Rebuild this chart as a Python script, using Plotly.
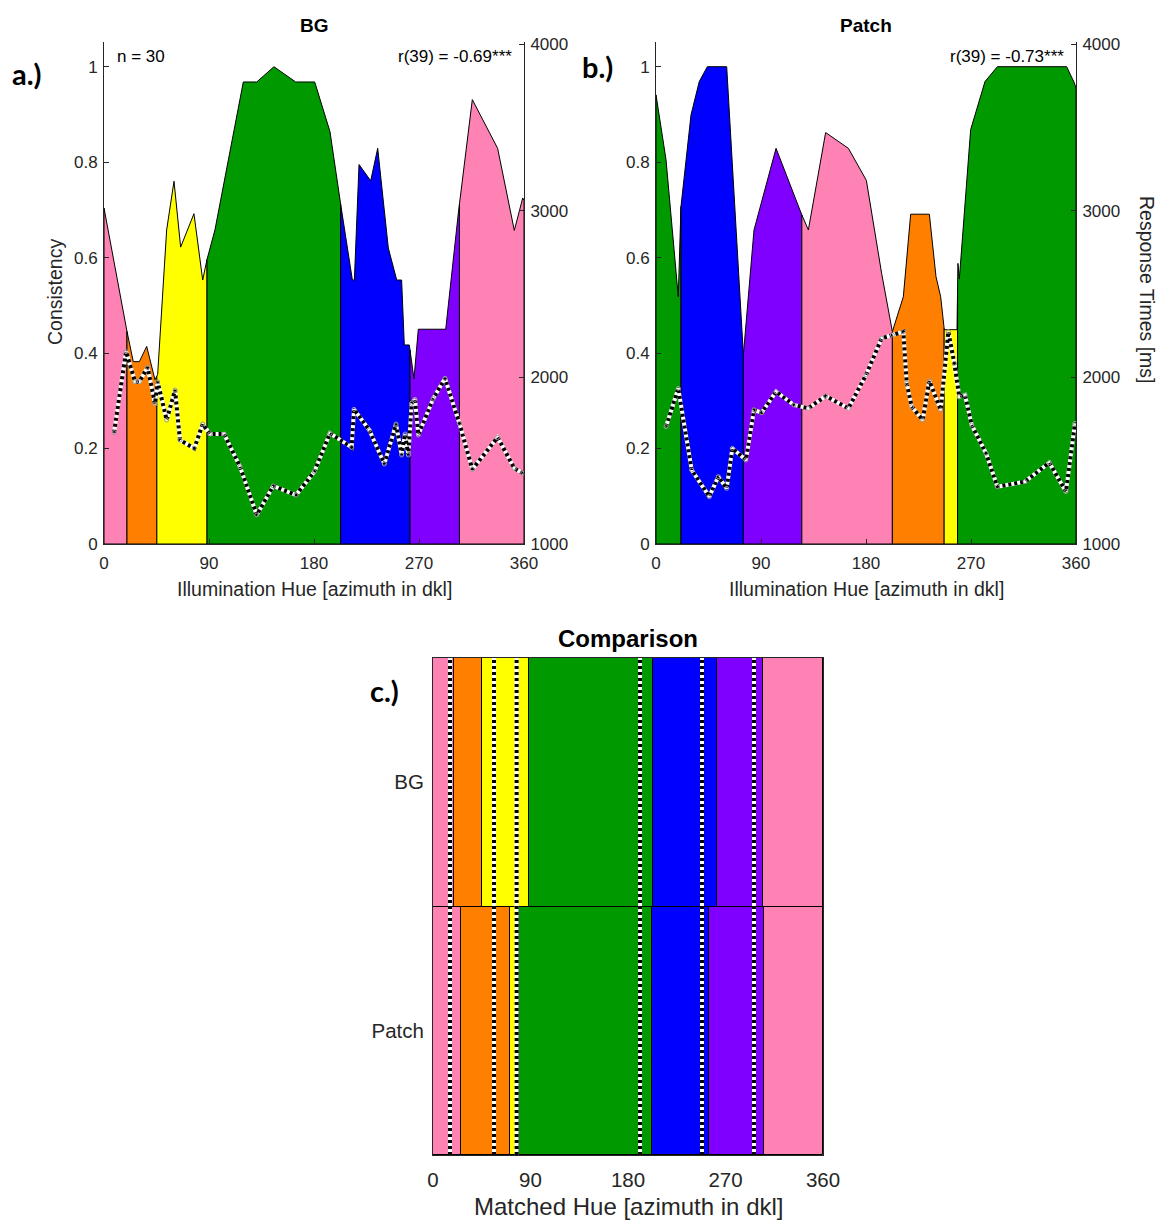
import numpy as np
import plotly.graph_objects as go

# ---------------------------------------------------------------------------
# Colour categories
# ---------------------------------------------------------------------------
CAT_COLORS = {
    "pink": "#FF82B4",
    "orange": "#FF8000",
    "yellow": "#FFFF00",
    "green": "#009900",
    "blue": "#0000FF",
    "purple": "#8000FF",
}

# ---------------------------------------------------------------------------
# BG condition: naming consistency and response times per illumination hue
# ---------------------------------------------------------------------------
bg_cons_hue = [0, 19.4, 25.1, 30.3, 36.6, 43.7, 46.0, 53.7, 60.0, 65.7, 77.1,
               84.6, 87.4, 95.1, 119.4, 130.9, 145.7, 164.3, 180.6, 193.7,
               202.9, 212.9, 214.6, 218.6, 228.6, 234.6, 243.7, 250.9, 255.1,
               257.4, 261.7, 265.7, 269.4, 292.9, 303.7, 315.7, 337.4, 351.7,
               358.9, 360]
bg_cons = [0.704, 0.449, 0.382, 0.382, 0.414, 0.344, 0.355, 0.658, 0.760,
           0.622, 0.692, 0.553, 0.588, 0.658, 0.968, 0.968, 1.000, 0.968,
           0.968, 0.864, 0.711, 0.553, 0.553, 0.795, 0.761, 0.829, 0.620,
           0.553, 0.553, 0.417, 0.417, 0.346, 0.450, 0.450, 0.693, 0.931,
           0.829, 0.657, 0.725, 0.720]

bg_rt_hue = [8.6, 18.9, 26.6, 30.3, 37.4, 43.7, 46.0, 53.7, 60.9, 65.1, 77.4,
             84.6, 90.9, 102.9, 116.6, 130.9, 145.1, 164.6, 180.3, 193.7,
             212.3, 214.3, 227.4, 240.3, 250.3, 255.1, 258.0, 260.9, 263.7,
             266.6, 269.4, 282.3, 292.3, 304.6, 315.7, 337.4, 351.7, 358.9]
bg_rt = [1668, 2154, 1974, 1974, 2060, 1840, 1974, 1744, 1924, 1624, 1574,
         1720, 1660, 1660, 1464, 1174, 1348, 1294, 1434, 1664, 1580, 1808,
         1684, 1480, 1720, 1534, 1660, 1534, 1844, 1868, 1654, 1874, 1994,
         1724, 1448, 1640, 1454, 1424]

bg_edges = [0, 19.7, 45.3, 88.3, 202.8, 262.3, 304.7, 360]
bg_cats = ["pink", "orange", "yellow", "green", "blue", "purple", "pink"]

# ---------------------------------------------------------------------------
# Patch condition
# ---------------------------------------------------------------------------
patch_cons_hue = [0, 8.6, 19.1, 21.4, 30.0, 37.1, 44.0, 60.6, 74.9, 84.0,
                  102.9, 124.9, 130.6, 145.4, 164.9, 180.3, 193.4, 202.6,
                  212.0, 218.3, 234.3, 240.0, 244.0, 247.1, 258.0, 258.8,
                  260.0, 269.7, 282.0, 292.6, 352.0, 358.6, 360]
patch_cons = [0.941, 0.805, 0.518, 0.707, 0.899, 0.969, 1.000, 1.000, 0.396,
              0.658, 0.829, 0.690, 0.658, 0.862, 0.829, 0.762, 0.567, 0.445,
              0.518, 0.691, 0.691, 0.560, 0.518, 0.449, 0.449, 0.588, 0.555,
              0.868, 0.969, 1.000, 1.000, 0.966, 0.955]

patch_rt_hue = [8.6, 19.1, 30.6, 45.7, 53.4, 60.6, 65.4, 77.1, 84.0, 90.6,
                102.9, 118.3, 130.6, 145.4, 164.9, 180.0, 193.4, 202.6, 212.0,
                214.9, 219.2, 228.6, 234.3, 244.0, 250.6, 255.7, 260.0, 264.9,
                270.6, 282.9, 292.6, 316.3, 337.1, 351.4, 359.1]
patch_rt = [1704, 1934, 1444, 1284, 1404, 1334, 1574, 1504, 1804, 1788, 1914,
            1834, 1814, 1888, 1814, 2014, 2234, 2254, 2274, 1964, 1824, 1744,
            1980, 1804, 2274, 2084, 1884, 1894, 1714, 1544, 1344, 1374, 1488,
            1314, 1724]

patch_edges = [0, 21.4, 74.9, 125.0, 202.6, 247.0, 258.5, 360]
patch_cats = ["green", "blue", "purple", "pink", "orange", "yellow", "green"]

# ---------------------------------------------------------------------------
# Comparison of category borders on matched hue
# ---------------------------------------------------------------------------
cmp_rows = ["BG", "Patch"]
cmp_edges = {
    "BG": [0, 19.7, 45.5, 88.3, 202.8, 262.4, 304.9, 360],
    "Patch": [0, 26.2, 70.8, 79.7, 202.5, 255.0, 305.8, 360],
}
cmp_cats = ["pink", "orange", "yellow", "green", "blue", "purple", "pink"]
cmp_markers = [15.7, 56.3, 77.2, 191.1, 248.3, 296.3]

stats_text = {"BG": "r(39) = -0.69***", "Patch": "r(39) = -0.73***"}
n_text = "n = 30"

# ---------------------------------------------------------------------------
# Layout geometry (pixels -> paper)
# ---------------------------------------------------------------------------
W, H = 1158, 1221


def fx(px):
    return px / W


def fy(py):
    return 1 - py / H


AX_COL = "#262626"
FONT = "Liberation Sans, Arial, sans-serif"
TOP, BOT = 42, 544
PANELS = {"a": (104, 524), "b": (656, 1076)}
C_L, C_R, C_T, C_B = 433, 823, 658, 1155


def segment(h, v, a, b):
    """Area under the consistency curve between hue a and hue b."""
    h = np.asarray(h, float)
    v = np.asarray(v, float)
    inner = (h > a) & (h < b)
    xs = [a] + list(h[inner]) + [b]
    ys = [float(np.interp(a, h, v))] + list(v[inner]) + [float(np.interp(b, h, v))]
    return xs + [b, a, a], ys + [0, 0, ys[0]]


fig = go.Figure()


def add_panel(cons_h, cons_v, rt_h, rt_v, edges, cats, xa, ya, ya_rt):
    for a, b, c in zip(edges[:-1], edges[1:], cats):
        xs, ys = segment(cons_h, cons_v, a, b)
        fig.add_trace(go.Scatter(
            x=xs, y=ys, xaxis=xa, yaxis=ya, mode="lines", fill="toself",
            fillcolor=CAT_COLORS[c], line=dict(color="black", width=1),
            hoverinfo="skip", showlegend=False))
    # response times: black/white dotted line
    fig.add_trace(go.Scatter(
        x=rt_h, y=rt_v, xaxis=xa, yaxis=ya_rt, mode="lines",
        line=dict(color="white", width=4), hoverinfo="skip", showlegend=False))
    fig.add_trace(go.Scatter(
        x=rt_h, y=rt_v, xaxis=xa, yaxis=ya_rt, mode="lines+markers",
        line=dict(color="black", width=4, dash="3px,3px"),
        marker=dict(symbol="circle-open", size=4, color="#9a9a9a",
                    line=dict(width=1)),
        hoverinfo="skip", showlegend=False))


add_panel(bg_cons_hue, bg_cons, bg_rt_hue, bg_rt, bg_edges, bg_cats,
          "x", "y", "y2")
add_panel(patch_cons_hue, patch_cons, patch_rt_hue, patch_rt, patch_edges,
          patch_cats, "x2", "y3", "y4")

# comparison bars
for row in cmp_rows:
    e = cmp_edges[row]
    fig.add_trace(go.Bar(
        y=[row] * (len(e) - 1), x=list(np.diff(e)), base=e[:-1],
        orientation="h", width=1, xaxis="x3", yaxis="y5",
        marker=dict(color=[CAT_COLORS[c] for c in cmp_cats],
                    line=dict(color="black", width=1)),
        hoverinfo="skip", showlegend=False))

for m in cmp_markers:
    fig.add_shape(type="line", xref="x3", yref="y5 domain", x0=m, x1=m,
                  y0=0, y1=1, line=dict(color="white", width=4))
    fig.add_shape(type="line", xref="x3", yref="y5 domain", x0=m, x1=m,
                  y0=0, y1=1, line=dict(color="black", width=4, dash="3px,3px"))

tick_font = dict(family=FONT, size=17, color=AX_COL)
base_axis = dict(showgrid=False, zeroline=False, showline=True,
                 linecolor=AX_COL, linewidth=1, ticks="inside", ticklen=5,
                 tickcolor=AX_COL, tickfont=tick_font, automargin=False)

hue_ticks = [0, 90, 180, 270, 360]
cons_ticks = [0, 0.2, 0.4, 0.6, 0.8, 1]
cons_text = ["0", "0.2", "0.4", "0.6", "0.8", "1"]
rt_ticks = [1000, 2000, 3000, 4000]

ydom = [fy(BOT), fy(TOP)]
cons_range = [0, (BOT - TOP) / (BOT - 66.7)]
rt_range = [1000, 1000 + (BOT - TOP) * 3000 / (BOT - 44)]

layout_axes = {}
for i, (key, (l, r)) in enumerate(PANELS.items()):
    xn = "xaxis" if i == 0 else "xaxis2"
    yl = "yaxis" if i == 0 else "yaxis3"
    yr = "yaxis2" if i == 0 else "yaxis4"
    xid = "x" if i == 0 else "x2"
    ylid = "y" if i == 0 else "y3"
    layout_axes[xn] = dict(base_axis, domain=[fx(l), fx(r)], range=[0, 360],
                           tickvals=hue_ticks, anchor=ylid,
                           ticklabelstandoff=4)
    layout_axes[yl] = dict(base_axis, domain=ydom, range=cons_range,
                           tickvals=cons_ticks, ticktext=cons_text,
                           anchor=xid, ticklabelstandoff=2)
    layout_axes[yr] = dict(base_axis, range=rt_range, tickvals=rt_ticks,
                           overlaying=ylid, side="right", anchor=xid,
                           ticklabelstandoff=2)

layout_axes["xaxis3"] = dict(base_axis, domain=[fx(C_L), fx(C_R)],
                             range=[0, 360], tickvals=hue_ticks, anchor="y5",
                             mirror=True, ticks="",
                             tickfont=dict(family=FONT, size=20.5, color=AX_COL),
                             ticklabelstandoff=6)
layout_axes["yaxis5"] = dict(base_axis, domain=[fy(C_B), fy(C_T)],
                             type="category", categoryorder="array",
                             categoryarray=["Patch", "BG"], range=[-0.5, 1.5],
                             anchor="x3", mirror=True, ticks="",
                             tickfont=dict(family=FONT, size=20.5, color=AX_COL),
                             ticklabelstandoff=4)

ann = []


def text(x, y, s, size, bold=False, anchor="center", angle=0, family=FONT,
         color=AX_COL):
    ann.append(dict(x=fx(x), y=fy(y), xref="paper", yref="paper", text=s,
                    showarrow=False, xanchor=anchor, yanchor="middle",
                    textangle=angle,
                    font=dict(family=family, size=size, color=color,
                              weight="bold" if bold else "normal")))


# panel titles
text(314, 26, "BG", 19, bold=True, color="black")
text(866, 26, "Patch", 19, bold=True, color="black")
text(628, 638, "Comparison", 24, bold=True, color="black")
# axis titles
text(314, 589, "Illumination Hue [azimuth in dkl]", 19.5)
text(866, 589, "Illumination Hue [azimuth in dkl]", 19.5)
text(55, 292, "Consistency", 19.5, angle=-90)
text(1147, 289, "Response Times [ms]", 19.5, angle=90)
text(628, 1206, "Matched Hue [azimuth in dkl]", 24)
# statistics
text(115, 56, n_text, 17, anchor="left", color="black")
text(514, 56, stats_text["BG"], 17, anchor="right", color="black")
text(1066, 56, stats_text["Patch"], 17, anchor="right", color="black")
# panel letters
LETTER_FONT = "Lato, Open Sans, sans-serif"
text(10, 73, "a.)", 29, bold=True, anchor="left", family=LETTER_FONT,
     color="black")
text(580, 67, "b.)", 29, bold=True, anchor="left", family=LETTER_FONT,
     color="black")
text(368, 690, "c.)", 29, bold=True, anchor="left", family=LETTER_FONT,
     color="black")

fig.update_layout(
    width=W, height=H, margin=dict(l=0, r=0, t=0, b=0, autoexpand=False),
    paper_bgcolor="white", plot_bgcolor="rgba(0,0,0,0)",
    barmode="overlay", bargap=0, showlegend=False, annotations=ann,
    **layout_axes)

fig.write_html("out.html")
